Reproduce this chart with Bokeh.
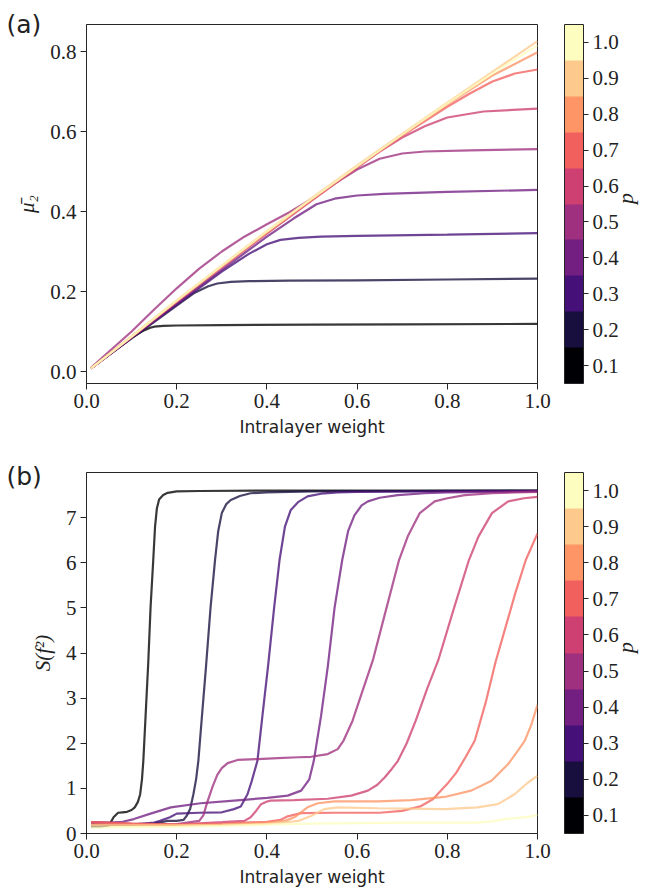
from math import pi
from bokeh.plotting import figure
from bokeh.models import (ColorBar, LinearColorMapper, FixedTicker, Range1d, LinearAxis,
                          NumeralTickFormatter)
from bokeh.layouts import column
from bokeh.embed import file_html
from bokeh.resources import INLINE

# ---------------- data ----------------
p_values = [0.1, 0.2, 0.3, 0.4, 0.5, 0.6, 0.7, 0.8, 0.9, 1.0]
colors = ["#000004", "#180f3e", "#451077", "#721f81", "#9f2f7f",
          "#cd4071", "#f1605d", "#fd9567", "#fec98d", "#fcfdbf"]
cbar_ticks = [0.1, 0.2, 0.3, 0.4, 0.5, 0.6, 0.7, 0.8, 0.9, 1.0]
x_ticks = [0.0, 0.2, 0.4, 0.6, 0.8, 1.0]
a_yticks = [0.0, 0.2, 0.4, 0.6, 0.8]
b_yticks = [0, 1, 2, 3, 4, 5, 6, 7]

# panel (a): mean mu_2 vs intralayer weight
a_x1 = [0.01, 0.05, 0.1, 0.12, 0.13, 0.14, 0.15, 0.17, 0.2, 0.3, 0.5, 0.7, 1.0]
a_y1 = [0.008, 0.043, 0.084, 0.098, 0.104, 0.109, 0.112, 0.114, 0.115, 0.116, 0.117, 0.118, 0.119]
a_x2 = [0.01, 0.1, 0.2, 0.24, 0.27, 0.29, 0.32, 0.36, 0.45, 0.6, 0.8, 1.0]
a_y2 = [0.008, 0.083, 0.165, 0.197, 0.213, 0.22, 0.224, 0.226, 0.227, 0.228, 0.23, 0.232]
a_x3 = [0.01, 0.1, 0.2, 0.3, 0.36, 0.4, 0.43, 0.47, 0.52, 0.6, 0.8, 1.0]
a_y3 = [0.008, 0.084, 0.167, 0.25, 0.294, 0.318, 0.329, 0.334, 0.337, 0.339, 0.342, 0.346]
a_x4 = [0.01, 0.1, 0.2, 0.3, 0.4, 0.46, 0.51, 0.55, 0.6, 0.66, 0.8, 1.0]
a_y4 = [0.008, 0.085, 0.17, 0.254, 0.337, 0.383, 0.418, 0.432, 0.44, 0.444, 0.449, 0.454]
a_x5 = [0.01, 0.05, 0.1, 0.15, 0.2, 0.25, 0.3, 0.35, 0.4, 0.45, 0.5, 0.55, 0.6, 0.65, 0.7,
        0.75, 0.85, 1.0]
a_y5 = [0.009, 0.05, 0.1, 0.155, 0.208, 0.257, 0.3, 0.337, 0.368, 0.398, 0.432, 0.47, 0.505,
        0.532, 0.545, 0.55, 0.553, 0.556]
a_x6 = [0.01, 0.1, 0.2, 0.3, 0.4, 0.5, 0.6, 0.65, 0.7, 0.75, 0.8, 0.88, 1.0]
a_y6 = [0.008, 0.086, 0.174, 0.26, 0.345, 0.428, 0.51, 0.55, 0.585, 0.613, 0.635, 0.65, 0.657]
a_x7 = [0.01, 0.1, 0.2, 0.3, 0.4, 0.5, 0.6, 0.7, 0.8, 0.85, 0.9, 0.95, 1.0]
a_y7 = [0.008, 0.087, 0.176, 0.263, 0.348, 0.43, 0.512, 0.59, 0.662, 0.695, 0.725, 0.745, 0.755]
a_x8 = [0.01, 0.1, 0.2, 0.3, 0.4, 0.5, 0.6, 0.7, 0.8, 0.9, 1.0]
a_y8 = [0.008, 0.087, 0.176, 0.263, 0.348, 0.431, 0.512, 0.592, 0.668, 0.74, 0.798]
a_x9 = [0.01, 0.1, 0.2, 0.3, 0.4, 0.5, 0.6, 0.7, 0.8, 0.9, 1.0]
a_y9 = [0.008, 0.088, 0.178, 0.265, 0.351, 0.434, 0.515, 0.594, 0.672, 0.749, 0.826]
a_x10 = [0.01, 0.1, 0.2, 0.3, 0.4, 0.5, 0.6, 0.7, 0.8, 0.9, 1.0]
a_y10 = [0.008, 0.087, 0.177, 0.264, 0.35, 0.432, 0.513, 0.592, 0.67, 0.745, 0.815]

# panel (b): S(f^2) vs intralayer weight
b_x1 = [0.01, 0.03, 0.05, 0.06, 0.07, 0.08, 0.09, 0.1, 0.107, 0.114, 0.119, 0.123, 0.126, 0.131,
        0.137, 0.142, 0.148, 0.152, 0.156, 0.161, 0.17, 0.18, 0.2, 0.25, 0.4, 0.6, 0.8, 1.0]
b_y1 = [0.15, 0.15, 0.18, 0.36, 0.46, 0.47, 0.48, 0.52, 0.58, 0.7, 0.87, 1.2, 1.61, 2.6,
        3.8, 5.0, 6.06, 6.8, 7.2, 7.4, 7.5, 7.55, 7.58, 7.59, 7.6, 7.6, 7.6, 7.6]
b_x2 = [0.01, 0.05, 0.1, 0.15, 0.18, 0.2, 0.215, 0.222, 0.23, 0.237, 0.243, 0.248, 0.256, 0.265,
        0.275, 0.285, 0.292, 0.3, 0.31, 0.32, 0.34, 0.364, 0.4, 0.5, 0.7, 1.0]
b_y2 = [0.2, 0.19, 0.2, 0.22, 0.28, 0.28, 0.3, 0.39, 0.55, 0.87, 1.2, 1.61, 2.6, 3.7,
        5.0, 6.06, 6.7, 7.1, 7.3, 7.39, 7.48, 7.54, 7.56, 7.58, 7.59, 7.6]
b_x3 = [0.01, 0.05, 0.1, 0.15, 0.163, 0.185, 0.2, 0.25, 0.3, 0.327, 0.342, 0.357, 0.366, 0.379,
        0.39, 0.403, 0.416, 0.428, 0.44, 0.453, 0.47, 0.49, 0.52, 0.557, 0.6, 0.8, 1.0]
b_y3 = [0.22, 0.21, 0.2, 0.24, 0.28, 0.36, 0.44, 0.46, 0.47, 0.54, 0.6, 0.87, 1.15, 1.61,
        2.6, 3.75, 5.0, 6.06, 6.8, 7.17, 7.35, 7.47, 7.53, 7.56, 7.57, 7.58, 7.59]
b_x4 = [0.01, 0.053, 0.08, 0.105, 0.142, 0.187, 0.253, 0.327, 0.401, 0.446, 0.476, 0.494, 0.504,
        0.52, 0.535, 0.55, 0.567, 0.58, 0.594, 0.61, 0.624, 0.65, 0.69, 0.75, 0.8, 0.9, 1.0]
b_y4 = [0.25, 0.24, 0.26, 0.32, 0.44, 0.58, 0.67, 0.73, 0.79, 0.84, 0.95, 1.2, 1.61,
        2.6, 3.7, 5.0, 6.06, 6.7, 7.05, 7.27, 7.36, 7.44, 7.5, 7.54, 7.56, 7.57, 7.58]
b_x5 = [0.01, 0.05, 0.1, 0.15, 0.2, 0.25, 0.259, 0.268, 0.28, 0.29, 0.3, 0.313, 0.335, 0.38,
        0.424, 0.47, 0.498, 0.535, 0.557, 0.57, 0.59, 0.61, 0.635, 0.66, 0.693, 0.713, 0.739,
        0.772, 0.8, 0.839, 0.9, 0.95, 1.0]
b_y5 = [0.2, 0.2, 0.2, 0.2, 0.21, 0.28, 0.4, 0.7, 1.05, 1.3, 1.45, 1.56, 1.63, 1.65,
        1.67, 1.69, 1.7, 1.76, 1.87, 2.06, 2.5, 3.1, 3.84, 4.8, 6.06, 6.6, 7.1,
        7.36, 7.43, 7.5, 7.54, 7.56, 7.57]
b_x6 = [0.01, 0.1, 0.2, 0.3, 0.35, 0.364, 0.376, 0.387, 0.398, 0.409, 0.46, 0.535, 0.587, 0.624,
        0.645, 0.661, 0.676, 0.69, 0.71, 0.73, 0.755, 0.78, 0.815, 0.848, 0.869, 0.899, 0.935,
        0.97, 1.0]
b_y6 = [0.25, 0.22, 0.2, 0.25, 0.28, 0.36, 0.5, 0.65, 0.7, 0.73, 0.74, 0.77, 0.84, 0.95,
        1.08, 1.24, 1.42, 1.6, 2.0, 2.5, 3.2, 3.84, 5.0, 6.06, 6.58, 7.1, 7.36,
        7.43, 7.46]
b_x7 = [0.01, 0.1, 0.2, 0.3, 0.4, 0.43, 0.446, 0.476, 0.55, 0.65, 0.7, 0.74, 0.768, 0.8, 0.82,
        0.841, 0.861, 0.885, 0.907, 0.93, 0.95, 0.974, 1.0]
b_y7 = [0.25, 0.22, 0.2, 0.22, 0.26, 0.3, 0.38, 0.45, 0.46, 0.46, 0.5, 0.6, 0.76, 1.1, 1.35,
        1.7, 2.06, 2.9, 3.8, 4.6, 5.3, 6.06, 6.65]
b_x8 = [0.01, 0.1, 0.2, 0.3, 0.4, 0.44, 0.461, 0.49, 0.513, 0.55, 0.646, 0.72, 0.794, 0.853,
        0.898, 0.935, 0.957, 0.972, 0.986, 1.0]
b_y8 = [0.2, 0.2, 0.19, 0.2, 0.24, 0.28, 0.36, 0.58, 0.67, 0.71, 0.71, 0.74, 0.81, 0.95,
        1.17, 1.54, 1.84, 2.06, 2.4, 2.85]
b_x9 = [0.01, 0.1, 0.2, 0.3, 0.4, 0.47, 0.498, 0.527, 0.557, 0.646, 0.794, 0.867, 0.912, 0.949,
        0.979, 1.0]
b_y9 = [0.18, 0.18, 0.18, 0.19, 0.21, 0.28, 0.39, 0.54, 0.58, 0.56, 0.54, 0.58, 0.65, 0.87,
        1.13, 1.28]
b_x10 = [0.01, 0.1, 0.2, 0.3, 0.4, 0.5, 0.6, 0.7, 0.8, 0.867, 0.9, 0.927, 0.95, 0.979, 1.0]
b_y10 = [0.13, 0.14, 0.15, 0.17, 0.2, 0.22, 0.23, 0.24, 0.24, 0.24, 0.27, 0.32, 0.34, 0.37, 0.41]

a_series = [(a_x1, a_y1), (a_x2, a_y2), (a_x3, a_y3), (a_x4, a_y4), (a_x5, a_y5),
            (a_x6, a_y6), (a_x7, a_y7), (a_x8, a_y8), (a_x9, a_y9), (a_x10, a_y10)]
b_series = [(b_x1, b_y1), (b_x2, b_y2), (b_x3, b_y3), (b_x4, b_y4), (b_x5, b_y5),
            (b_x6, b_y6), (b_x7, b_y7), (b_x8, b_y8), (b_x9, b_y9), (b_x10, b_y10)]

# ---------------- styling ----------------
TICK_FONT = "Liberation Serif"
SANS = "DejaVu Sans"
AX_COLOR = "#262626"
FIG_W = 654


def make_panel(series, y_range, yticks, yfmt, ylabel, letter, top, frame_h, bottom,
               letter_standoff):
    height = top + frame_h + bottom
    p = figure(width=FIG_W, height=height, x_range=Range1d(0, 1),
               y_range=Range1d(*y_range), output_backend="svg", toolbar_location=None,
               min_border_left=86, min_border_top=top, min_border_bottom=bottom,
               min_border_right=117, background_fill_color="white",
               border_fill_color="white", title=letter)
    # panel letter drawn as the plot title, pushed to the top-left corner
    p.title.align = "left"
    p.title.offset = -80
    p.title.standoff = letter_standoff
    p.title.vertical_align = "bottom"
    p.title.text_font = SANS
    p.title.text_font_style = "normal"
    p.title.text_font_size = "25px"
    p.title.text_color = "#222222"

    p.grid.visible = False
    p.outline_line_color = AX_COLOR
    p.outline_line_width = 1
    for (xs, ys), c in zip(series, colors):
        p.line(xs, ys, line_color=c, line_width=2.2, line_alpha=0.78)

    for ax in (p.xaxis[0], p.yaxis[0]):
        ax.axis_line_color = AX_COLOR
        ax.major_tick_line_color = AX_COLOR
        ax.major_tick_out = 6
        ax.major_tick_in = 0
        ax.minor_tick_line_color = None
        ax.major_label_text_font = TICK_FONT
        ax.major_label_text_font_size = "21px"
        ax.major_label_text_color = "#222222"
        ax.major_label_standoff = 4
    p.xaxis.ticker = FixedTicker(ticks=x_ticks)
    p.xaxis.formatter = NumeralTickFormatter(format="0.0")
    p.yaxis.ticker = FixedTicker(ticks=yticks)
    p.yaxis.formatter = NumeralTickFormatter(format=yfmt)
    p.xaxis.axis_label = "Intralayer weight"
    p.xaxis.axis_label_text_font = SANS
    p.xaxis.axis_label_text_font_style = "normal"
    p.xaxis.axis_label_text_font_size = "17px"
    p.xaxis.axis_label_text_color = "#222222"
    p.xaxis.axis_label_standoff = 6
    p.yaxis.axis_label = ylabel
    p.yaxis.axis_label_text_font = TICK_FONT
    p.yaxis.axis_label_text_font_style = "italic"
    p.yaxis.axis_label_text_font_size = "21px"
    p.yaxis.axis_label_text_color = "#222222"
    p.yaxis.axis_label_standoff = 8

    mapper = LinearColorMapper(palette=colors, low=0.05, high=1.05)
    cb = ColorBar(color_mapper=mapper, width=19, height=frame_h, padding=0, margin=0,
                  location=(27, 0), ticker=FixedTicker(ticks=cbar_ticks),
                  formatter=NumeralTickFormatter(format="0.0"),
                  major_label_text_font=TICK_FONT, major_label_text_font_size="21px",
                  major_label_text_color="#222222", major_tick_out=5, major_tick_in=0,
                  major_tick_line_color=AX_COLOR, bar_line_color=AX_COLOR,
                  border_line_color=None, background_fill_color=None,
                  label_standoff=4, minor_tick_line_color=None)
    p.add_layout(cb, "right")

    # colour-bar label "p": a bare axis on the right carrying one rotated tick label
    p.extra_y_ranges = {"cblabel": Range1d(0, 2)}
    lab_axis = LinearAxis(y_range_name="cblabel", ticker=FixedTicker(ticks=[1]),
                          major_label_overrides={1: "p"}, axis_line_color=None,
                          major_tick_line_color=None, minor_tick_line_color=None,
                          major_tick_out=0, major_tick_in=0,
                          major_label_orientation=pi / 2, major_label_standoff=4,
                          major_label_text_font=TICK_FONT,
                          major_label_text_font_style="italic",
                          major_label_text_font_size="22px",
                          major_label_text_color="#222222")
    p.add_layout(lab_axis, "right")
    return p


pa = make_panel(a_series, (-0.03, 0.8675), a_yticks, "0.0", "\u03bc\u0304\u2082", "(a)",
                24, 359, 60, -28)
pb = make_panel(b_series, (0, 8.0), b_yticks, "0", "S(f\u00b2)", "(b)", 29, 361, 58, -36)

layout = column(pa, pb, spacing=0)
open("out.html", "w").write(file_html(layout, INLINE))
